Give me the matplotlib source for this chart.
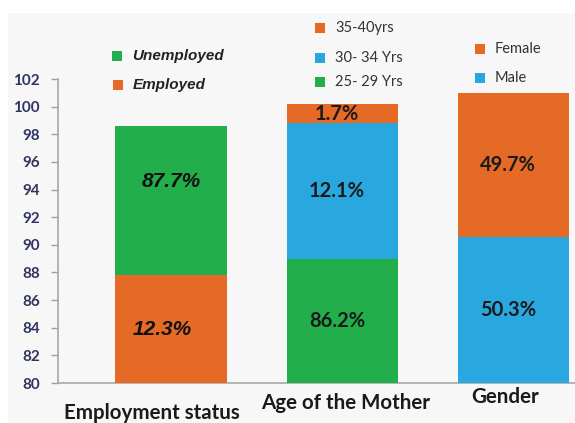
import matplotlib
matplotlib.use("Agg")
import matplotlib.pyplot as plt
from matplotlib.patches import Rectangle

# data (segments stacked from the 80 baseline)
categories = ["Employment status", "Age of the Mother", "Gender"]
employment_names = ["Employed", "Unemployed"]
employment_vals = [7.8, 10.8]
employment_labels = ["12.3%", "87.7%"]
age_names = ["25- 29 Yrs", "30- 34 Yrs", "35-40yrs"]
age_vals = [9.0, 9.85, 1.35]
age_labels = ["86.2%", "12.1%", "1.7%"]
gender_names = ["Male", "Female"]
gender_vals = [10.6, 10.4]
gender_labels = ["50.3%", "49.7%"]
yticks = list(range(80, 103, 2))

GREEN = "#21ae4b"
ORANGE = "#e46a25"
BLUE = "#29a8e0"

W, H = 575, 423
fig = plt.figure(figsize=(W / 100, H / 100), dpi=100)
fig.patch.set_facecolor("white")
fig.patches.append(Rectangle((8 / W, 0), 1, 1 - 13 / H, transform=fig.transFigure,
                             facecolor="#f7f7f7", edgecolor="none", zorder=-5))

def fx(x):
    return x / W

def fy(y):
    return 1 - y / H

ax = fig.add_axes([fx(58), fy(383), 1 - fx(58), fy(79) - fy(383)])
ax.patch.set_alpha(0)
ax.set_zorder(1)
base = 80
width = 0.65

groups = [
    (0, employment_vals, employment_labels, [ORANGE, GREEN], "italic"),
    (1, age_vals, age_labels, [GREEN, BLUE, ORANGE], "normal"),
    (2, gender_vals, gender_labels, [BLUE, ORANGE], "normal"),
]
for x, vals, labs, cols, style in groups:
    bottom = base
    n = len(vals)
    for i, (v, lab, c) in enumerate(zip(vals, labs, cols)):
        ax.bar(x, v, width, bottom=bottom, color=c, zorder=2 + (n - i))
        frac = 0.5
        if lab == "87.7%":
            frac = 0.63
        if lab == "1.7%":
            frac = 0.45
        ty = bottom + v * frac
        if style == "italic":
            ax.text(x - (0.05 if i == 0 else 0), ty, lab, ha="center", va="center",
                    fontsize=15, fontweight="bold", fontstyle="italic",
                    family="Liberation Sans", color="#111111", zorder=10)
        else:
            ax.text(x - 0.03, ty, lab, ha="center", va="center", fontsize=14.5,
                    fontweight="bold", family="Lato", color="#1a1a1a",
                    zorder=2 + (n - i) + 0.5)
        bottom += v

ax.set_xlim(-0.66, 2.36)
ax.set_ylim(80, 102)
ax.set_yticks(yticks)
ax.set_xticks([])
for lab in ax.get_yticklabels():
    lab.set_fontweight("bold")
    lab.set_family("Lato")
ax.tick_params(axis="y", colors="#a0a0a0", labelcolor="#2f3461", labelsize=11,
               length=5, width=1, pad=8)
for s in ["top", "right"]:
    ax.spines[s].set_visible(False)
for s in ["left", "bottom"]:
    ax.spines[s].set_color("#a8a8a8")
    ax.spines[s].set_linewidth(1.2)

# category labels (staggered as in the original)
cat_pos = [(152, 413), (346, 403), (505, 397)]
for name, (px, py) in zip(categories, cat_pos):
    fig.text(fx(px), fy(py), name, ha="center", va="center", fontsize=14.8,
             fontweight="bold", family="Lato", color="#1a1a1a")

def legend_entry(px, py, swatch, text, **kw):
    fig.patches.append(Rectangle((fx(px), fy(py + 5)), 10 / W, 10 / H,
                                 transform=fig.transFigure, facecolor=swatch,
                                 edgecolor="none", zorder=3))
    fig.text(fx(px + 20), fy(py), text, ha="left", va="center", **kw)

emp_kw = dict(fontsize=11, fontweight="bold", fontstyle="italic",
              family="Liberation Sans", color="#222222")
legend_entry(112, 56, GREEN, employment_names[1], **emp_kw)
legend_entry(113, 85, ORANGE, employment_names[0], **emp_kw)

age_kw = dict(fontsize=10.5, family="Lato", color="#333333")
age_rows = [82, 58, 28]
for name, c, py in zip(age_names, [GREEN, BLUE, ORANGE], age_rows):
    legend_entry(315, py, c, name, **age_kw)

for name, c, py in zip(gender_names, [BLUE, ORANGE], [78, 49]):
    legend_entry(475, py, c, name, **age_kw)

fig.savefig("out.png", dpi=100, facecolor=fig.get_facecolor())
